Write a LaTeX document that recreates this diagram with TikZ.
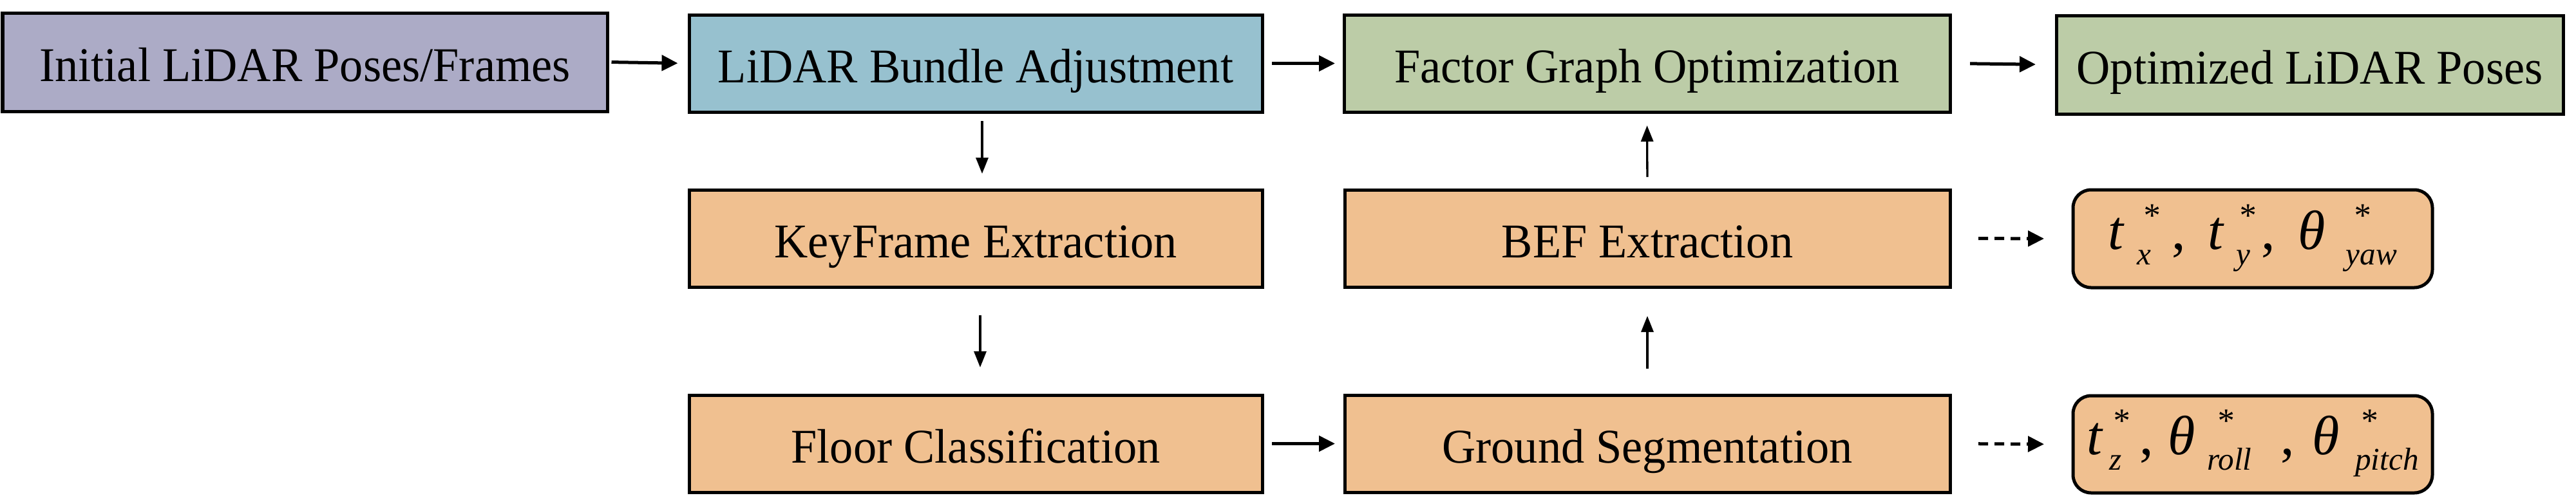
\documentclass[tikz,border=0pt]{standalone}
\usepackage{fontspec}
\usepackage{graphicx}
\setmainfont{Liberation Serif}
\usetikzlibrary{arrows.meta}
\definecolor{cpurple}{RGB}{172,171,198}
\definecolor{cblue}{RGB}{151,193,207}
\definecolor{cgreen}{RGB}{188,204,167}
\definecolor{corange}{RGB}{240,192,144}
\newcommand\basef{\fontsize{24.5}{27}\selectfont\itshape}
\newcommand\subf{\fontsize{14}{15}\selectfont\itshape}
\newcommand\starf{\fontsize{15}{16}\selectfont}
\newcommand\T[1]{\scalebox{1}[1.04]{#1}}
% gap, star offset, subscript
\newcommand\SV[3]{\hspace{#1}\rlap{\hspace{#2}\raisebox{0.35cm}{\starf *}}\raisebox{-0.24cm}{\subf #3}}
\tikzset{
  box/.style={draw=black, line width=0.05cm, minimum height=1.51cm, inner sep=0pt,
    text height=0.7cm, text depth=0.11cm, font=\fontsize{20.6}{24}\selectfont},
  mbox/.style={box, rounded corners=0.28cm, fill=corange, text height=0.4cm, text depth=0.08cm},
  harr/.style={-{Triangle[length=0.25cm,width=0.24cm]}, line width=0.05cm},
  varr/.style={-{Triangle[length=0.25cm,width=0.19cm]}, line width=0.033cm},
  darr/.style={-{Triangle[length=0.25cm,width=0.24cm]}, line width=0.05cm, dash pattern=on 0.15cm off 0.1cm},
}
\begin{document}
\begin{tikzpicture}
\useasboundingbox (0,0) rectangle (40,-7.73);
% row 1
\node[box, fill=cpurple, minimum width=9.39cm, minimum height=1.53cm] (init) at (4.735,-0.965) {\T{Initial LiDAR Poses/Frames}};
\node[box, fill=cblue, minimum width=8.90cm] (ba) at (15.15,-0.985) {\T{LiDAR Bundle Adjustment}};
\node[box, fill=cgreen, minimum width=9.41cm] (fg) at (25.575,-0.985) {\T{Factor Graph Optimization}};
\node[box, fill=cgreen, minimum width=7.87cm, minimum height=1.53cm] (opt) at (35.865,-1.005) {\T{Optimized LiDAR Poses}};
% row 2
\node[box, fill=corange, minimum width=8.90cm] (kf) at (15.15,-3.705) {\T{KeyFrame Extraction}};
\node[box, fill=corange, minimum width=9.40cm] (bef) at (25.58,-3.705) {\T{BEF Extraction}};
\node[mbox, minimum width=5.58cm, minimum height=1.52cm] (r1) at (34.98,-3.71)
  {\basef t\SV{0.21cm}{0.08cm}{x}\hspace{0.32cm}{\upshape,}\hspace{0.34cm}t\SV{0.2cm}{0.03cm}{y}\hspace{0.17cm}{\upshape,}\hspace{0.36cm}θ\SV{0.32cm}{0.11cm}{yaw}\hspace{0.6cm}};
% row 3
\node[box, fill=corange, minimum width=8.90cm] (fc) at (15.15,-6.895) {\T{Floor Classification}};
\node[box, fill=corange, minimum width=9.40cm] (gs) at (25.58,-6.895) {\T{Ground Segmentation}};
\node[mbox, minimum width=5.58cm, minimum height=1.51cm] (r2) at (34.98,-6.905)
  {\basef t\SV{0.11cm}{0.04cm}{z}\hspace{0.28cm}{\upshape,}\hspace{0.23cm}θ\SV{0.18cm}{0.14cm}{roll}\hspace{0.45cm}{\upshape,}\hspace{0.27cm}θ\SV{0.25cm}{0.07cm}{pitch}};
% connectors
\draw[harr, shorten <=0.04cm, shorten >=0.15cm] (init.east) -- (ba.west);
\draw[harr, shorten <=0.125cm, shorten >=0.115cm] (ba.east) -- (fg.west);
\draw[harr, shorten <=0.285cm, shorten >=0.295cm] (fg.east) -- (opt.west);
\draw[varr, shorten <=0.115cm, shorten >=0.225cm] ([xshift=0.1cm]ba.south) -- ([xshift=0.1cm]kf.north);
\draw[varr, shorten <=0.415cm, shorten >=0.405cm] ([xshift=0.07cm]kf.south) -- ([xshift=0.07cm]fc.north);
\draw[harr, shorten <=0.125cm, shorten >=0.125cm] (fc.east) -- (gs.west);
\draw[varr, shorten <=0.385cm, shorten >=0.425cm] (gs.north) -- (bef.south);
\draw[varr, shorten <=0.175cm, shorten >=0.185cm] (bef.north) -- (fg.south);
\draw[darr, shorten <=0.415cm, shorten >=0.425cm] (bef.east) -- (r1.west);
\draw[darr, shorten <=0.415cm, shorten >=0.425cm] (gs.east) -- (r2.west);
\end{tikzpicture}
\end{document}
